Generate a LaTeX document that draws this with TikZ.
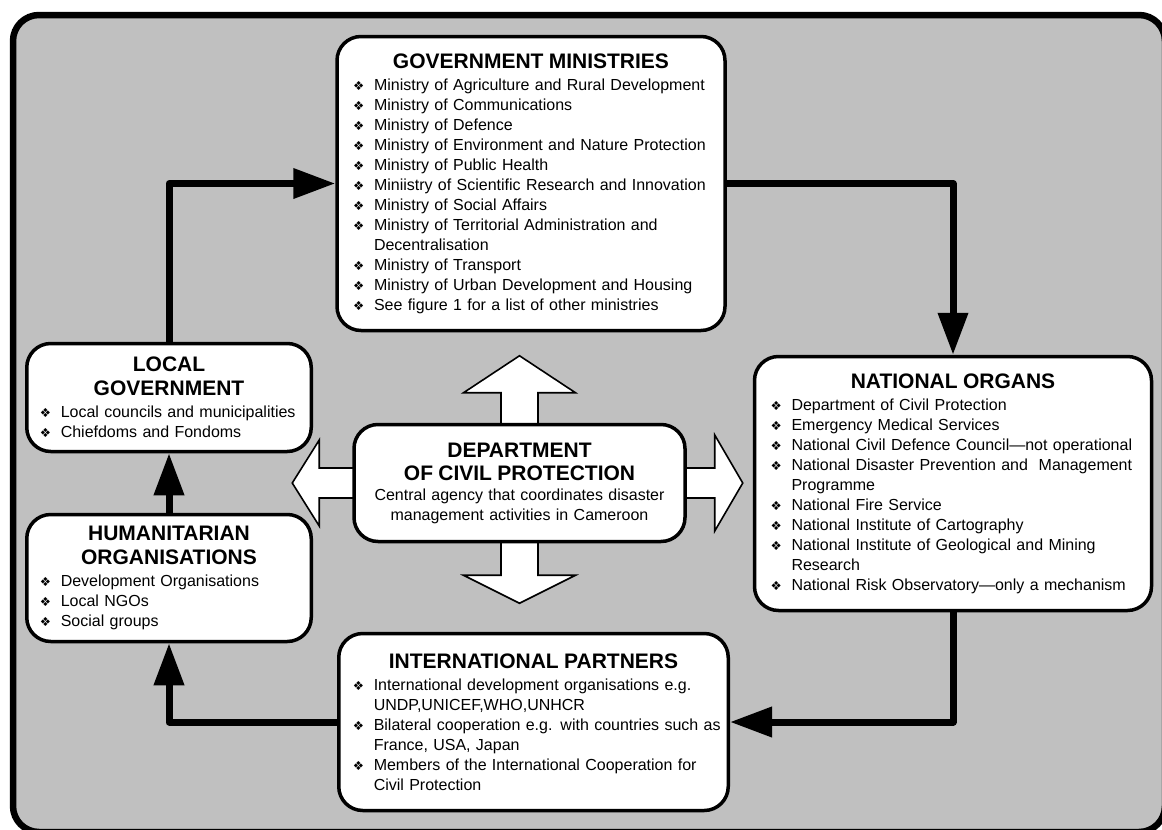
\documentclass[tikz,border=0pt]{standalone}
\usepackage{fontspec}
\setmainfont{Liberation Sans}
\newfontfamily\dejavu{DejaVu Sans}
\usetikzlibrary{arrows.meta,calc}
\pgfdeclarelayer{bg}
\pgfdeclarelayer{mid}
\pgfsetlayers{bg,mid,main}
\definecolor{panelgray}{RGB}{192,192,192}
\setlength{\parindent}{0pt}
\newcommand{\bul}{{\dejavu\fontsize{12.5}{12.5}\selectfont\symbol{"2756}}}
\newcommand{\boxhead}[1]{{\centering\fontsize{21}{24}\selectfont\bfseries #1\par}\vspace{2pt}}
\newcommand{\bitem}[1]{\noindent\makebox[21pt][l]{\bul}\mbox{#1}\par}
\newcommand{\bcont}[1]{\noindent\hspace*{21pt}\mbox{#1}\par}

\begin{document}
\begin{tikzpicture}[x=1pt,y=-1pt,
    orgbox/.style={draw, line width=3.5pt, rounded corners=24pt, fill=white,
                   align=left, inner ysep=6pt, font=\fontsize{16}{20}\selectfont},
    flow/.style={line width=7pt, line join=round, -{Triangle[length=42pt,width=29pt]}},
    blockarrow/.style={draw, fill=white, line width=1.6pt}]
  \useasboundingbox (0,0) rectangle (1162,830);
  % grey panel
  \begin{pgfonlayer}{bg}
    \draw[line width=6.5pt, fill=panelgray, rounded corners=26pt] (13,15) rectangle (1165,832);
  \end{pgfonlayer}

  \node[orgbox, text width=356pt, inner xsep=16pt, minimum height=294pt] (gov) at (531,183.5) {%
    \boxhead{GOVERNMENT MINISTRIES}
    \bitem{Ministry of Agriculture and Rural Development}
    \bitem{Ministry of Communications}
    \bitem{Ministry of Defence}
    \bitem{Ministry of Environment and Nature Protection}
    \bitem{Ministry of Public Health}
    \bitem{Miniistry of Scientific Research and Innovation}
    \bitem{Ministry of Social Affairs}
    \bitem{Ministry of Territorial Administration and}
    \bcont{Decentralisation}
    \bitem{Ministry of Transport}
    \bitem{Ministry of Urban Development and Housing}
    \bitem{See figure 1 for a list of other ministries}};
  \node[orgbox, text width=365pt, inner xsep=16pt, minimum height=254pt] (natorg) at (953,483.5) {%
    \boxhead{NATIONAL ORGANS}
    \bitem{Department of Civil Protection}
    \bitem{Emergency Medical Services}
    \bitem{National Civil Defence Council---not operational}
    \bitem{National Disaster Prevention and\ \ Management}
    \bcont{Programme}
    \bitem{National Fire Service}
    \bitem{National Institute of Cartography}
    \bitem{National Institute of Geological and Mining}
    \bcont{Research}
    \bitem{National Risk Observatory---only a mechanism}};
  \node[orgbox, text width=258.5pt, inner xsep=13pt, minimum height=108pt] (localgov) at (169,397.5) {%
    \boxhead{LOCAL\\GOVERNMENT}
    \bitem{Local councils and municipalities}
    \bitem{Chiefdoms and Fondoms}};
  \node[orgbox, text width=258.5pt, inner xsep=13pt, minimum height=127pt] (human) at (169,578) {%
    \boxhead{HUMANITARIAN\\ORGANISATIONS}
    \bitem{Development Organisations}
    \bitem{Local NGOs}
    \bitem{Social groups}};
  \node[orgbox, align=center, text width=303pt, inner xsep=14pt, minimum height=117pt] (dept) at (519.5,483) {%
    {\fontsize{21}{23}\selectfont\bfseries DEPARTMENT\\OF CIVIL PROTECTION\par}
    Central agency that coordinates disaster\\management activities in Cameroon};
  \node[orgbox, text width=361.5pt, inner xsep=14pt, minimum height=177pt] (intl) at (533.5,722) {%
    \boxhead{INTERNATIONAL PARTNERS}
    \bitem{International development organisations e.g.}
    \bcont{UNDP,UNICEF,WHO,UNHCR}
    \bitem{Bilateral cooperation e.g. with countries such as}
    \bcont{France, USA, Japan}
    \bitem{Members of the International Cooperation for}
    \bcont{Civil Protection}};

  % white arrows out of the department
  \begin{pgfonlayer}{mid}
    \draw[blockarrow] ($(dept.north)+(-18.5,10)$) -- ++(0,-40) -- ++(-37.5,0) -- ++(56,-37)
      -- ++(56,37) -- ++(-37.5,0) -- ++(0,40) -- cycle;
    \draw[blockarrow] ($(dept.south)+(-18.5,-10)$) -- ++(0,42) -- ++(-37.5,0) -- ++(56,28)
      -- ++(56,-28) -- ++(-37.5,0) -- ++(0,-42) -- cycle;
    \draw[blockarrow] ($(dept.west)+(10,-15)$) -- ++(-43,0) -- ++(0,-28) -- ++(-27,43)
      -- ++(27,43) -- ++(0,-28) -- ++(43,0) -- cycle;
    \draw[blockarrow] ($(dept.east)+(-10,-15)$) -- ++(38,0) -- ++(0,-33) -- ++(28,48)
      -- ++(-28,48) -- ++(0,-33) -- ++(-38,0) -- cycle;
  \end{pgfonlayer}

  % flow round the boxes
  \draw[flow] (localgov.north) |- (gov.west);
  \draw[flow] (gov.east) -| (natorg.north);
  \draw[flow] (natorg.south) |- (intl.east);
  \draw[flow] (intl.west) -| (human.south);
  \draw[flow] (human.north) -- (localgov.south);
\end{tikzpicture}
\end{document}
